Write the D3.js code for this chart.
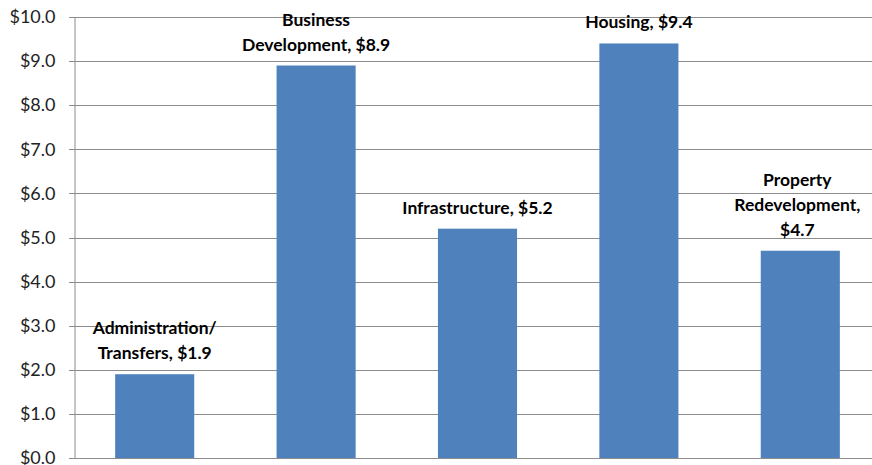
<!DOCTYPE html>
<html><head><meta charset="utf-8">
<script src="https://cdn.jsdelivr.net/npm/d3@7"></script>
<style>body{margin:0;background:#fff}svg{display:block}</style>
</head><body>
<svg id="c" width="872" height="465"></svg>
<script>
const categories = ["Administration/\nTransfers", "Business\nDevelopment", "Infrastructure", "Housing", "Property\nRedevelopment"];
const values = [1.9, 8.9, 5.2, 9.4, 4.7];
const labelLines = [
  ["Administration/", "Transfers, $1.9"],
  ["Business", "Development, $8.9"],
  ["Infrastructure, $5.2"],
  ["Housing, $9.4"],
  ["Property", "Redevelopment,", "$4.7"]
];
const yTicks = [0,1,2,3,4,5,6,7,8,9,10];

const svg = d3.select("#c");
const m = {left: 74, right: -9, top: 17, bottom: 7};
const W = 872, H = 465;
const x = d3.scaleBand().domain(categories).range([m.left, W - m.right]).paddingInner(0.51).paddingOuter(0.255);
const y = d3.scaleLinear().domain([0, 10]).range([H - m.bottom, m.top]);
const font = "Lato, 'Open Sans', sans-serif";

// gridlines
svg.append("g").selectAll("line").data(yTicks).join("line")
  .attr("x1", m.left - 5).attr("x2", W).attr("y1", d => Math.round(y(d)) + 0.5).attr("y2", d => Math.round(y(d)) + 0.5)
  .attr("stroke", "#8c8c8c").attr("stroke-width", 1);

// y axis
const ya = svg.append("g").attr("transform", `translate(${m.left + 0.5},0)`)
  .call(d3.axisLeft(y).tickValues(yTicks).tickFormat(d => "$" + d.toFixed(1)).tickSize(0).tickPadding(19));
ya.select(".domain").attr("stroke", "#8c8c8c");
ya.selectAll("text").attr("font-family", font).attr("font-size", 18).attr("fill", "#222");

// bars
svg.append("g").selectAll("rect").data(values).join("rect")
  .attr("x", (d, i) => x(categories[i])).attr("width", x.bandwidth())
  .attr("y", d => y(d)).attr("height", d => y(0) - y(d))
  .attr("fill", "#4F81BD");

// labels
const lh = 25;
svg.append("g").selectAll("text").data(values).join("text")
  .attr("text-anchor", "middle").attr("font-family", font).attr("font-weight", "bold").attr("font-size", 17.5).attr("fill", "#000")
  .each(function(d, i) {
    const lines = labelLines[i];
    const cx = x(categories[i]) + x.bandwidth() / 2 - (i === 4 ? 3 : 0);
    const base = y(d) - 15 - (lines.length - 1) * lh;
    d3.select(this).selectAll("tspan").data(lines).join("tspan")
      .attr("x", cx).attr("y", (t, k) => base + k * lh).text(t => t);
  });
</script>
</body></html>
